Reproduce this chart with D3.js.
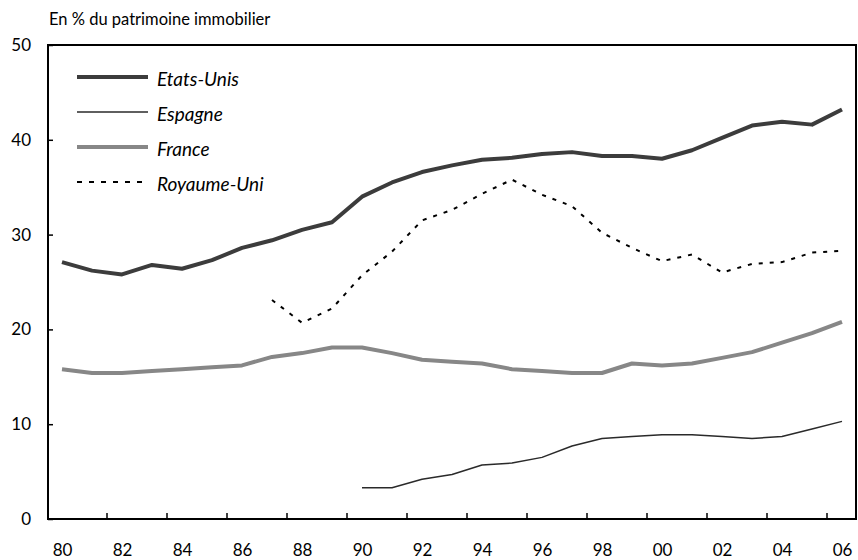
<!DOCTYPE html>
<meta charset="utf-8">
<style>
body { margin: 0; background: #fff; font-family: Lato, "Open Sans", sans-serif; }
.tick text { font-family: Lato, sans-serif; font-size: 17px; fill: #000; }
.legend text { font-style: italic; font-size: 19px; }
</style>
<body>
<script src="https://cdn.jsdelivr.net/npm/d3@7"></script>
<script>

var years = d3.range(1980, 2007);
var yTicks = [0, 10, 20, 30, 40, 50];

// values in % of housing wealth, null = no data
var etatsUnis = [27.1, 26.2, 25.8, 26.8, 26.4, 27.3, 28.6, 29.4, 30.5, 31.3,
                 34.0, 35.5, 36.6, 37.3, 37.9, 38.1, 38.5, 38.7, 38.3, 38.3,
                 38.0, 38.9, 40.2, 41.5, 41.9, 41.6, 43.2];
var espagne = [null, null, null, null, null, null, null, null, null, null,
               3.3, 3.3, 4.2, 4.7, 5.7, 5.9, 6.5, 7.7, 8.5, 8.7,
               8.9, 8.9, 8.7, 8.5, 8.7, 9.5, 10.3];
var france = [15.8, 15.4, 15.4, 15.6, 15.8, 16.0, 16.2, 17.1, 17.5, 18.1,
              18.1, 17.5, 16.8, 16.6, 16.4, 15.8, 15.6, 15.4, 15.4, 16.4,
              16.2, 16.4, 17.0, 17.6, 18.6, 19.6, 20.8];
var royaumeUni = [null, null, null, null, null, null, null, 23.1, 20.7, 22.2,
                  25.7, 28.2, 31.5, 32.6, 34.3, 35.8, 34.2, 33.0, 30.2, 28.6,
                  27.2, 27.9, 26.0, 26.9, 27.1, 28.1, 28.3];

var seriesNames = ["Etats-Unis", "Espagne", "France", "Royaume-Uni"];
var seriesValues = [etatsUnis, espagne, france, royaumeUni];
var seriesStyle = [
  {color: "#3c3c3c", width: 4, dash: null},
  {color: "#2a2a2a", width: 1.5, dash: null},
  {color: "#878787", width: 4, dash: null},
  {color: "#000", width: 2, dash: "4,7"}
];

var W = 858, H = 560;
var m = {left: 48, right: 856, top: 45, bottom: 519};

var svg = d3.select("body").append("svg")
    .attr("width", W)
    .attr("height", H);

var x = d3.scalePoint()
    .domain(years)
    .range([47, 857])
    .padding(0.5);

var y = d3.scaleLinear()
    .domain([0, 50])
    .range([m.bottom, m.top]);

var step = x.step();

// title
svg.append("text")
    .attr("x", 49)
    .attr("y", 25)
    .style("font-size", "16.5px")
    .text("En % du patrimoine immobilier");

// y axis (ticks pointing inside)
var yAxis = svg.append("g")
    .attr("transform", "translate(" + m.left + ",0)")
    .call(d3.axisRight(y).tickValues(yTicks).tickSize(5).tickFormat(d3.format("d")));
yAxis.select(".domain").remove();
yAxis.selectAll(".tick line").attr("stroke", "#000").attr("stroke-width", 1.5);
yAxis.selectAll(".tick text")
    .attr("x", -17)
    .attr("text-anchor", "end");

// x axis labels
var xAxis = svg.append("g")
    .attr("transform", "translate(0," + m.bottom + ")")
    .call(d3.axisBottom(x)
      .tickValues(years.filter(function(d) { return d % 2 == 0; }))
      .tickSize(0)
      .tickFormat(function(d) { return String(d).slice(2); }));
xAxis.select(".domain").remove();
xAxis.selectAll(".tick text").attr("y", 25).attr("dy", "0.71em");

// x tick marks between categories, before each even year
svg.append("g").selectAll("line")
    .data(years.filter(function(d) { return d % 2 == 0 && d > 1980; }))
  .enter().append("line")
    .attr("x1", function(d) { return x(d) - step / 2; })
    .attr("x2", function(d) { return x(d) - step / 2; })
    .attr("y1", m.bottom)
    .attr("y2", m.bottom - 6)
    .attr("stroke", "#000")
    .attr("stroke-width", 1.5);

// frame
svg.append("rect")
    .attr("x", m.left)
    .attr("y", m.top)
    .attr("width", m.right - m.left)
    .attr("height", m.bottom - m.top)
    .attr("fill", "none")
    .attr("stroke", "#000")
    .attr("stroke-width", 2);

var line = d3.line()
    .defined(function(d) { return d != null; })
    .x(function(d, i) { return x(years[i]); })
    .y(function(d) { return y(d); });

seriesValues.forEach(function(vals, k) {
  var s = seriesStyle[k];
  svg.append("path")
      .datum(vals)
      .attr("fill", "none")
      .attr("stroke", s.color)
      .attr("stroke-width", s.width)
      .attr("stroke-linejoin", "round")
      .attr("stroke-dasharray", s.dash)
      .attr("d", line);
});

// legend
var legend = svg.append("g").attr("class", "legend");
seriesNames.forEach(function(name, k) {
  var s = seriesStyle[k];
  var ly = 77 + k * 35;
  legend.append("line")
      .attr("x1", 77).attr("x2", 148)
      .attr("y1", ly).attr("y2", ly)
      .attr("stroke", s.color)
      .attr("stroke-width", s.width)
      .attr("stroke-dasharray", k == 3 ? "5,7" : null);
  legend.append("text")
      .attr("x", 157)
      .attr("y", ly + 9)
      .text(name);
});

</script>
